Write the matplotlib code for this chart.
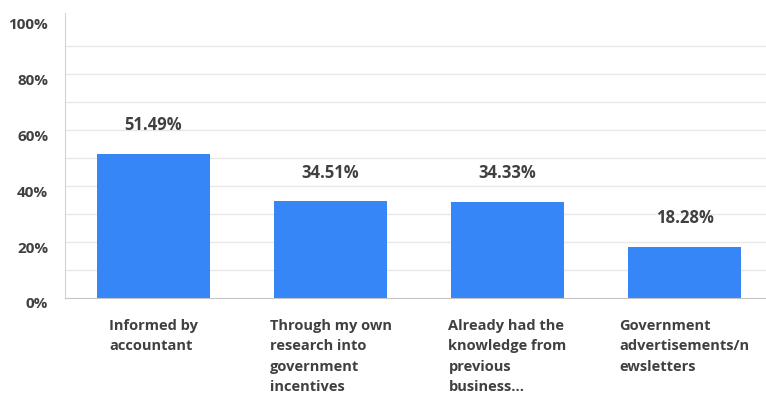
import numpy as np
import matplotlib.pyplot as plt
import matplotlib.transforms as mtransforms

plt.rcParams['font.family'] = ['Open Sans', 'DejaVu Sans']

categories = ['Informed by\naccountant',
              'Through my own\nresearch into\ngovernment\nincentives',
              'Already had the\nknowledge from\nprevious\nbusiness...',
              'Government\nadvertisements/n\newsletters']
values = [51.49, 34.51, 34.33, 18.28]
ytick_vals = [0, 20, 40, 60, 80, 100]

bar_color = '#3686f7'
text_color = '#404040'

fig = plt.figure(figsize=(7.66, 3.93), dpi=100)
ax = fig.add_axes([65 / 766, 1 - 298 / 393, 1 - 65 / 766, 285 / 393])

x = np.arange(len(values))
ax.bar(x, values, width=0.64, color=bar_color, zorder=3)

# value labels above bars
for xi, v in zip(x, values):
    ax.annotate(f'{v:.2f}%', (xi, v), xytext=(0, 14), textcoords='offset points',
                ha='center', va='bottom', fontsize=12, fontweight='bold',
                color=text_color)

# light horizontal grid every 10%
for g in range(10, 100, 10):
    ax.axhline(g, color='#e8e8e8', lw=1, zorder=1)

ax.set_xlim(-0.5, 3.46)
ax.set_ylim(0, 101.8)
ax.set_xticks([])
ax.set_yticks(ytick_vals)
ax.set_yticklabels([f'{t}%' for t in ytick_vals])
ax.tick_params(axis='y', length=0, pad=12, labelsize=11, labelcolor=text_color)
for lab in ax.get_yticklabels():
    lab.set_fontweight('bold')
    lab.set_transform(lab.get_transform() +
                      mtransforms.ScaledTranslation(0, -5 / 100, fig.dpi_scale_trans))

for side in ['top', 'right']:
    ax.spines[side].set_visible(False)
ax.spines['left'].set_color('#d4d4d4')
ax.spines['bottom'].set_color('#c4c4c4')
ax.spines['bottom'].set_zorder(4)

# category labels under the bars
for xi, cat in zip(x, categories):
    ax.annotate(cat, (xi, 0), xytext=(0, -15), textcoords='offset points',
                ha='center', va='top', multialignment='left', fontsize=10.5,
                fontweight='bold', color=text_color, linespacing=1.58,
                annotation_clip=False)

fig.savefig('out.png', dpi=100)
